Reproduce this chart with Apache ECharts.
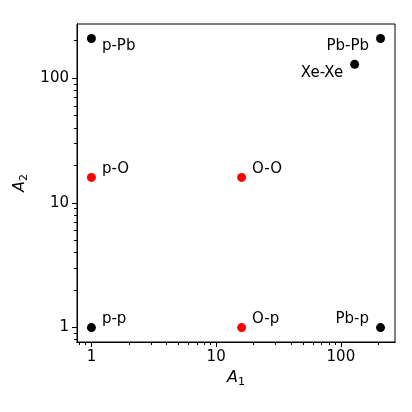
<!DOCTYPE html>
<html>
<head>
<meta charset="utf-8">
<script src="https://cdn.jsdelivr.net/npm/echarts@6/dist/echarts.min.js"></script>
<style>
  html, body { margin: 0; padding: 0; background: #fff; }
  #chart { width: 412px; height: 412px; }
</style>
</head>
<body>
<div id="chart"></div>
<script>
// --- data ---
const systems = ['p-p', 'p-O', 'p-Pb', 'O-p', 'O-O', 'Pb-p', 'Xe-Xe', 'Pb-Pb'];
const a1Values = [1, 1, 1, 16, 16, 208, 129, 208];
const a2Values = [1, 16, 208, 1, 16, 1, 129, 208];
const oxygenSystems = ['p-O', 'O-O', 'O-p'];
const majorTicks = [1, 10, 100];
const minorTicks = [0.8, 0.9, 2, 3, 4, 5, 6, 7, 8, 9, 20, 30, 40, 50, 60, 70, 80, 90, 200];

// --- style ---
const FONT = 'DejaVu Sans';
const AXIS_MIN = 0.766;
const AXIS_MAX = 271.6;
// label placement per system: [position, offsetX, offsetY]
const labelPlace = {
  'p-p':   ['right', 1, -8],
  'p-O':   ['right', 1, -8],
  'p-Pb':  ['right', 1, 8],
  'O-p':   ['right', 1, -8],
  'O-O':   ['right', 1, -8],
  'Pb-p':  ['left', -2, -8],
  'Xe-Xe': ['left', -2, 9],
  'Pb-Pb': ['left', -2, 8]
};

const points = systems.map((name, i) => {
  const p = labelPlace[name];
  return {
    name: name,
    value: [a1Values[i], a2Values[i]],
    itemStyle: { color: oxygenSystems.includes(name) ? '#ff0000' : '#000000', opacity: 1 },
    label: { position: p[0], offset: [p[1], p[2]] }
  };
});

const chart = echarts.init(document.getElementById('chart'));

const nameRich = {
  i: { fontFamily: FONT, fontStyle: 'italic', fontSize: 16, color: '#000' },
  s: { fontFamily: FONT, fontSize: 11, color: '#000', padding: [9, 0, 0, 0] }
};

const logAxis = (extra) => Object.assign({
  type: 'log',
  logBase: 10,
  min: AXIS_MIN,
  max: AXIS_MAX,
  splitLine: { show: false },
  axisLine: { show: true, onZero: false, lineStyle: { color: '#000', width: 1 } }
}, extra);

const majorPart = {
  axisTick: { show: true, customValues: majorTicks, length: 5, lineStyle: { color: '#000' } },
  axisLabel: { customValues: majorTicks, color: '#000', fontFamily: FONT, fontSize: 15, margin: 8,
    formatter: v => String(Math.round(v)) }
};
const minorPart = {
  axisTick: { show: true, customValues: minorTicks, length: 3, lineStyle: { color: '#000' } },
  axisLabel: { show: false }
};

const option = {
  backgroundColor: '#fff',
  animation: false,
  grid: {
    left: 77, right: 17, top: 24, bottom: 70,
    show: true, borderColor: '#000', borderWidth: 1, backgroundColor: 'transparent'
  },
  xAxis: [
    logAxis(Object.assign({
      name: '{i|A}{s|1}',
      nameLocation: 'middle',
      nameGap: 26,
      nameTextStyle: { rich: nameRich }
    }, majorPart)),
    logAxis(Object.assign({ position: 'bottom' }, minorPart))
  ],
  yAxis: [
    logAxis(Object.assign({
      name: '{i|A}{s|2}',
      nameLocation: 'middle',
      nameGap: 40,
      nameRotate: 90,
      nameTextStyle: { rich: nameRich }
    }, majorPart)),
    logAxis(Object.assign({ position: 'left' }, minorPart))
  ],
  series: [{
    type: 'scatter',
    symbolSize: 9,
    data: points,
    label: {
      show: true,
      formatter: '{b}',
      color: '#000',
      fontFamily: FONT,
      fontSize: 15
    }
  }]
};

chart.setOption(option);
</script>
</body>
</html>
